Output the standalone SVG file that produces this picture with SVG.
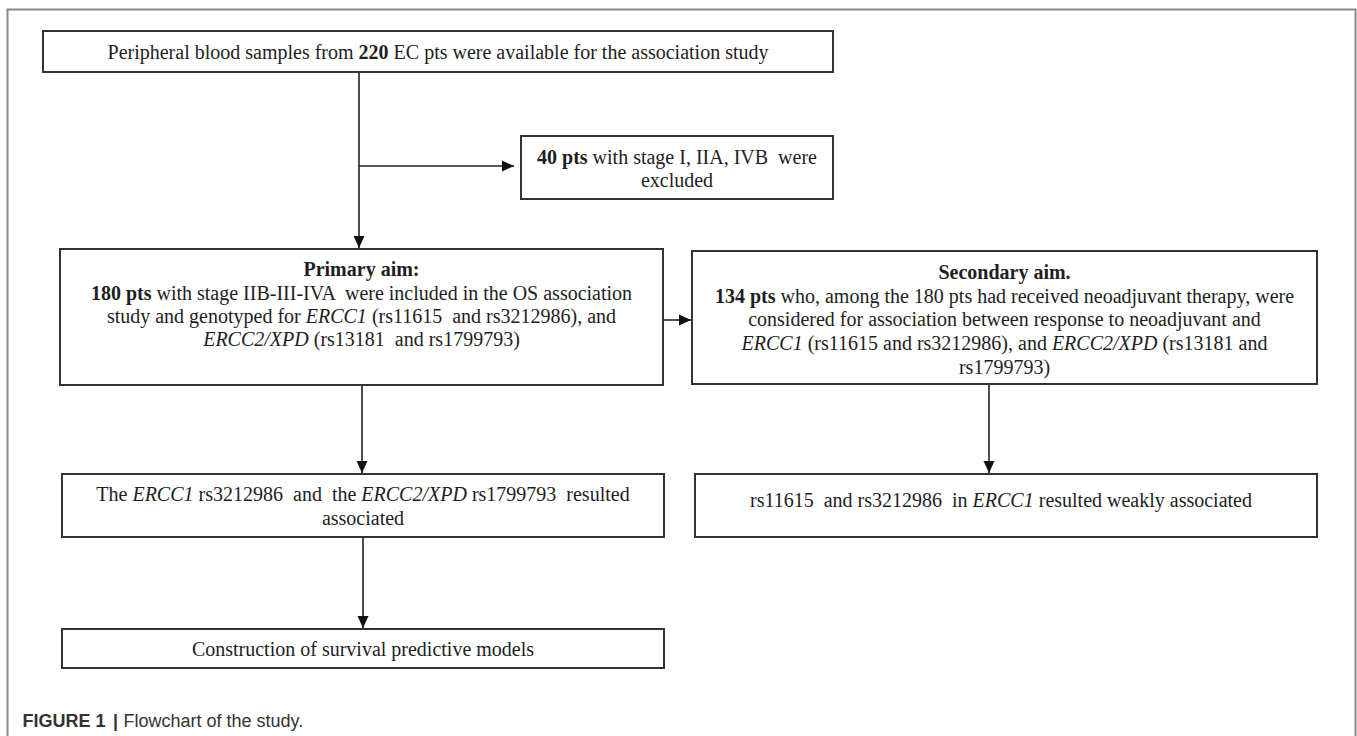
<svg xmlns="http://www.w3.org/2000/svg" width="1357" height="736" viewBox="0 0 1357 736">
  <style>
    .box { fill: #ffffff; stroke: #333333; stroke-width: 2; }
    .t { font-family: "Liberation Serif", "Times New Roman", serif; font-size: 20px; fill: #1e1e1e; text-anchor: middle; }
    .b { font-weight: bold; }
    .i { font-style: italic; }
    .conn { stroke: #222222; stroke-width: 1.6; fill: none; }
    .cap { font-family: "Liberation Sans", Arial, sans-serif; font-size: 18px; fill: #333333; }
  </style>
  <defs>
    <marker id="arrow" markerUnits="userSpaceOnUse" markerWidth="13" markerHeight="12" refX="12" refY="6" orient="auto">
      <path d="M0,0.5 L12,6 L0,11.5 Z" fill="#111111"/>
    </marker>
  </defs>
  <rect x="0" y="0" width="1357" height="736" fill="#ffffff"/>
  <path d="M7.5,736 V9.5 H1355.5 V736" fill="none" stroke="#8a8a8a" stroke-width="2"/>

  <g id="connectors">
    <line class="conn" x1="359" y1="72" x2="359" y2="248" marker-end="url(#arrow)"/>
    <line class="conn" x1="359" y1="166" x2="514" y2="166" marker-end="url(#arrow)"/>
    <line class="conn" x1="663" y1="320" x2="691" y2="320" marker-end="url(#arrow)"/>
    <line class="conn" x1="362" y1="385" x2="362" y2="473" marker-end="url(#arrow)"/>
    <line class="conn" x1="989" y1="385" x2="989" y2="473" marker-end="url(#arrow)"/>
    <line class="conn" x1="363" y1="537" x2="363" y2="628" marker-end="url(#arrow)"/>
  </g>

  <g id="node-samples">
    <rect class="box" x="43" y="31" width="790" height="41"/>
    <text class="t" x="438" y="59" xml:space="preserve">Peripheral blood samples from <tspan class="b">220</tspan> EC pts were available for the association study</text>
  </g>

  <g id="node-excluded">
    <rect class="box" x="521" y="136" width="312" height="63"/>
    <text class="t" x="677" y="164" xml:space="preserve"><tspan class="b">40 pts</tspan> with stage I, IIA, IVB  were</text>
    <text class="t" x="677" y="187">excluded</text>
  </g>

  <g id="node-primary">
    <rect class="box" x="60" y="249" width="603" height="136"/>
    <text class="t b" x="361.5" y="276">Primary aim:</text>
    <text class="t" x="361.5" y="300" xml:space="preserve"><tspan class="b">180 pts</tspan> with stage IIB-III-IVA  were included in the OS association</text>
    <text class="t" x="361.5" y="323" xml:space="preserve">study and genotyped for <tspan class="i">ERCC1</tspan> (rs11615  and rs3212986), and</text>
    <text class="t" x="361.5" y="346" xml:space="preserve"><tspan class="i">ERCC2/XPD</tspan> (rs13181  and rs1799793)</text>
  </g>

  <g id="node-secondary">
    <rect class="box" x="692" y="251" width="625" height="133"/>
    <text class="t b" x="1004.5" y="279">Secondary aim.</text>
    <text class="t" x="1004.5" y="303" xml:space="preserve"><tspan class="b">134 pts</tspan> who, among the 180 pts had received neoadjuvant therapy, were</text>
    <text class="t" x="1004.5" y="326" xml:space="preserve">considered for association between response to neoadjuvant and</text>
    <text class="t" x="1004.5" y="350" xml:space="preserve"><tspan class="i">ERCC1</tspan> (rs11615 and rs3212986), and <tspan class="i">ERCC2/XPD</tspan> (rs13181 and</text>
    <text class="t" x="1004.5" y="374">rs1799793)</text>
  </g>

  <g id="node-primary-result">
    <rect class="box" x="62" y="474" width="602" height="63"/>
    <text class="t" x="363" y="501" xml:space="preserve">The <tspan class="i">ERCC1</tspan> rs3212986  and  the <tspan class="i">ERCC2/XPD</tspan> rs1799793  resulted</text>
    <text class="t" x="363" y="525">associated</text>
  </g>

  <g id="node-secondary-result">
    <rect class="box" x="695" y="474" width="622" height="63"/>
    <text class="t" x="1001" y="507" xml:space="preserve">rs11615  and rs3212986  in <tspan class="i">ERCC1</tspan> resulted weakly associated</text>
  </g>

  <g id="node-models">
    <rect class="box" x="62" y="629" width="602" height="39"/>
    <text class="t" x="363" y="656">Construction of survival predictive models</text>
  </g>

  <g id="caption">
    <text class="cap" x="22.5" y="727"><tspan font-weight="bold">FIGURE 1</tspan></text>
    <text class="cap" x="113" y="727" font-weight="bold">|</text>
    <text class="cap" x="123.5" y="727">Flowchart of the study.</text>
  </g>
</svg>
